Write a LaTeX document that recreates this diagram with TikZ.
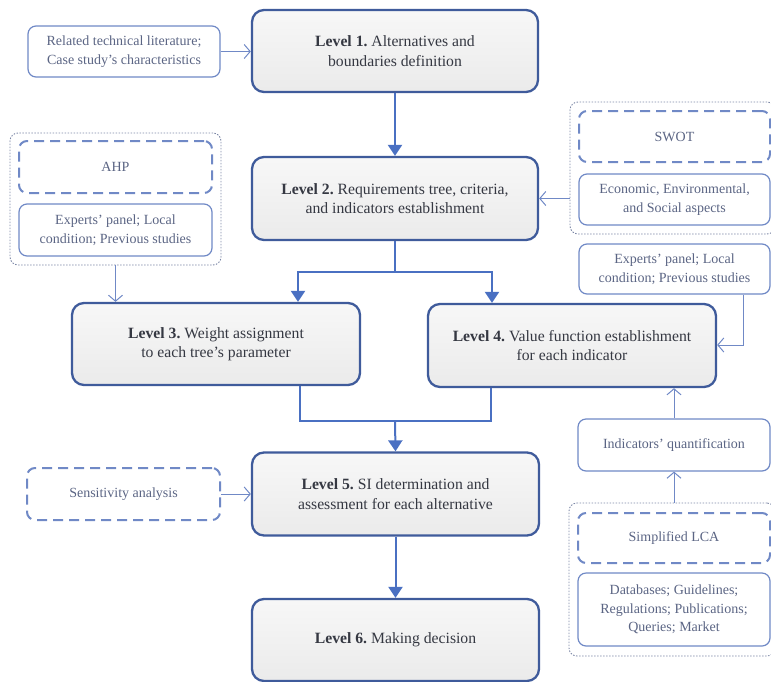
\documentclass[tikz,border=0pt]{standalone}
\usepackage{fontspec}
\setmainfont{Liberation Serif}
\usetikzlibrary{arrows.meta}
\definecolor{lvlborder}{HTML}{3F5B9B}
\definecolor{mainline}{HTML}{4A70C2}
\definecolor{sideline}{HTML}{7089C6}
\definecolor{dotline}{HTML}{7C87A6}
\definecolor{sidetext}{HTML}{5B6584}
\definecolor{lvltext}{HTML}{353842}
\tikzset{
  levelbox/.style={draw=lvlborder, line width=2.3pt, rounded corners=12pt,
    top color=gray!6, bottom color=gray!16, text=lvltext,
    align=center, font=\fontsize{15.7}{19.5}\selectfont, inner sep=0pt},
  sidebox/.style={draw=sideline, line width=1.2pt, rounded corners=8pt, fill=white,
    text=sidetext, align=center, font=\fontsize{14}{18.5}\selectfont, inner sep=0pt},
  dashbox/.style={sidebox, line width=2pt, dash pattern=on 10pt off 6pt},
  dotbox/.style={draw=dotline, line width=0.9pt, rounded corners=8pt,
    dash pattern=on 1.5pt off 1.5pt, inner sep=0pt},
  mainarrow/.style={draw=mainline, line width=2pt, -{Triangle[length=11pt,width=14pt]}},
  thinarrow/.style={draw=sideline, line width=1pt, -{Straight Barb[length=6pt,width=14pt,line width=1pt]}},
}
\newcommand{\lv}[1]{\textbf{#1}}
\frenchspacing
\begin{document}
\frenchspacing
\begin{tikzpicture}[x=1pt,y=-1pt]
\useasboundingbox (0,0) rectangle (771,681);
% outer dotted groups
\node[dotbox, minimum width=211pt, minimum height=132pt] (ahpg) at (115.5,199) {};
\node[dotbox, minimum width=205pt, minimum height=132pt] (swotg) at (672.5,168) {};
\node[dotbox, minimum width=206pt, minimum height=153pt] (lcag) at (672,579.5) {};
% level boxes
\node[levelbox, minimum width=286pt, minimum height=82pt] (l1) at (395,51) {\lv{Level 1.} Alternatives and\\boundaries definition};
\node[levelbox, minimum width=286pt, minimum height=83pt] (l2) at (395,198.5) {\lv{Level 2.} Requirements tree, criteria,\\and indicators establishment};
\node[levelbox, minimum width=288pt, minimum height=82pt] (l3) at (216,344) {\lv{Level 3.} Weight assignment\\to each tree's parameter};
\node[levelbox, minimum width=288pt, minimum height=83pt] (l4) at (572,345.5) {\lv{Level 4.} Value function establishment\\for each indicator};
\node[levelbox, minimum width=287pt, minimum height=83pt] (l5) at (395.5,494) {\lv{Level 5.} SI determination and\\assessment for each alternative};
\node[levelbox, minimum width=287pt, minimum height=82pt] (l6) at (395.5,640) {\lv{Level 6.} Making decision};
% side boxes
\node[sidebox, minimum width=192pt, minimum height=51pt] (rel) at (124,51.5) {Related technical literature;\\Case study's characteristics};
\node[dashbox, minimum width=193pt, minimum height=52pt] (ahp) at (115.5,167) {AHP};
\node[sidebox, minimum width=193pt, minimum height=52pt] (expl) at (115.5,230) {Experts' panel; Local\\condition; Previous studies};
\node[dashbox, minimum width=191pt, minimum height=51pt] (swot) at (674.5,136.5) {SWOT};
\node[sidebox, minimum width=191pt, minimum height=51pt] (eco) at (674.5,199.5) {Economic, Environmental,\\and Social aspects};
\node[sidebox, minimum width=191pt, minimum height=50pt] (expr) at (674.5,269) {Experts' panel; Local\\condition; Previous studies};
\node[sidebox, minimum width=192pt, minimum height=52pt] (ind) at (674,445) {Indicators' quantification};
\node[dashbox, minimum width=192pt, minimum height=50pt] (slca) at (674,538) {Simplified LCA};
\node[sidebox, minimum width=192pt, minimum height=73pt] (db) at (674,609.5) {Databases; Guidelines;\\Regulations; Publications;\\Queries; Market};
\node[dashbox, minimum width=193pt, minimum height=52pt] (sens) at (123.5,494) {Sensitivity analysis};
% coordinates
\coordinate (s2) at (395,272);
\coordinate (j5) at (395,421);
% main connectors
\draw[mainarrow] (l1) -- (l2);
\draw[draw=mainline, line width=2pt] (l2.south) -- (s2);
\draw[mainarrow] (s2) -| (l3.north -| 298,0);
\draw[mainarrow] (s2) -| (l4.north -| 492,0);
\draw[draw=mainline, line width=2pt] (l3.south -| 300,0) |- (j5);
\draw[draw=mainline, line width=2pt] (l4.south -| 491,0) |- (j5);
\draw[mainarrow] (j5) -- (l5.north);
\draw[mainarrow] (l5) -- (l6);
% thin connectors
\draw[thinarrow] (rel.east) -- (rel.east -| l1.west);
\draw[thinarrow] (ahpg.south) -- (ahpg.south |- l3.north);
\draw[thinarrow] (swotg.west |- l2.east) -- (l2.east);
\draw[thinarrow] (expr.south -| 743,0) |- (l4.east |- 0,345);
\draw[thinarrow] (ind.north) -- (ind.north |- l4.south);
\draw[thinarrow] (lcag.north -| ind.south) -- (ind.south);
\draw[thinarrow] (sens.east) -- (sens.east -| l5.west);
\end{tikzpicture}
\end{document}
